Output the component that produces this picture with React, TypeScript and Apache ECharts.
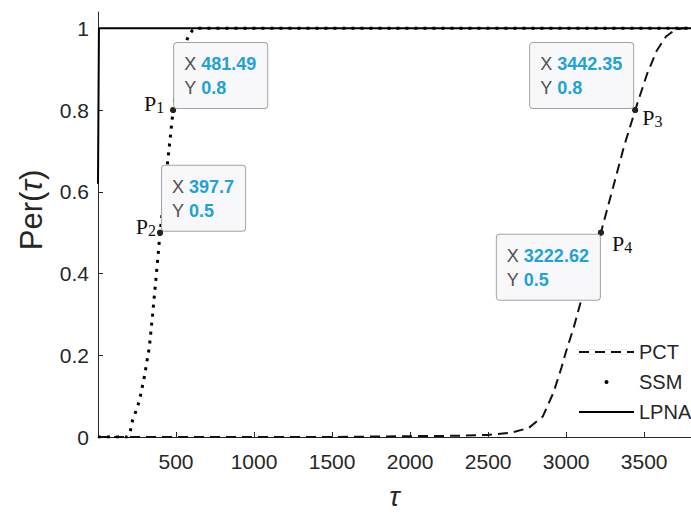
import { useEffect, useRef } from 'react';
import * as echarts from 'echarts';

// ---- data ----
const pctTau = [0, 500, 1000, 1500, 2000, 2300, 2500, 2650, 2760, 2850, 2920, 2970, 3000, 3050, 3100, 3160, 3222.62, 3300, 3370, 3442.35, 3520, 3580, 3640, 3700, 3750, 3800];
const pctPer = [0, 0, 0, 0, 0.002, 0.003, 0.005, 0.011, 0.022, 0.05, 0.11, 0.17, 0.21, 0.27, 0.34, 0.42, 0.5, 0.61, 0.71, 0.8, 0.89, 0.945, 0.98, 0.997, 1, 1];

const ssmTau = [0, 150, 188, 205, 222, 245, 266, 297, 329, 350, 372, 397.7, 440, 481.49, 510, 540, 565, 585, 605, 625, 3800];
const ssmPer = [0, 0, 0, 0.01, 0.042, 0.065, 0.09, 0.147, 0.22, 0.3, 0.39, 0.5, 0.65, 0.8, 0.88, 0.935, 0.968, 0.985, 0.995, 1, 1];

const lpnaTau = [0, 6, 3800];
const lpnaPer = [0.62, 1, 1];

const tipNames = ['1', '2', '3', '4'];
const tipX = [481.49, 397.7, 3442.35, 3222.62];
const tipY = [0.8, 0.5, 0.8, 0.5];

const xTicks = [500, 1000, 1500, 2000, 2500, 3000, 3500];
const yTicks = [0, 0.2, 0.4, 0.6, 0.8, 1];

const legendNames = ['PCT', 'SSM', 'LPNA'];

// ---- label placement (offsets relative to each marker) ----
const tipPlacement = [
  { position: [4, 1], align: 'left', verticalAlign: 'bottom' },
  { position: [5, 1], align: 'left', verticalAlign: 'bottom' },
  { position: [1, 1], align: 'right', verticalAlign: 'bottom' },
  { position: [2, 5], align: 'right', verticalAlign: 'top' },
];
const namePlacement = [
  { position: [-6, -4], align: 'right', verticalAlign: 'middle' },
  { position: [-1, -3], align: 'right', verticalAlign: 'middle' },
  { position: [10, 10], align: 'left', verticalAlign: 'middle' },
  { position: [14, 14], align: 'left', verticalAlign: 'middle' },
];

const zip = (a: number[], b: number[]) => a.map((v, i) => [v, b[i]]);

const SANS = "Arial, 'Liberation Sans', sans-serif";
const SERIF = "'Times New Roman', 'Liberation Serif', serif";
const AX = '#262626';

export default function App() {
  const ref = useRef<HTMLDivElement>(null);

  useEffect(() => {
    if (!ref.current) return;
    const chart = echarts.init(ref.current, undefined, { renderer: 'svg' });

    const tipData = tipX.map((x, i) => ({
      value: [x, tipY[i]],
      label: tipPlacement[i],
    }));
    const nameData = tipX.map((x, i) => ({
      value: [x, tipY[i]],
      label: namePlacement[i],
    }));

    const option: any = {
      animation: false,
      backgroundColor: '#ffffff',
      grid: { left: 98, right: -7, top: 12, bottom: 81 },
      legend: {
        orient: 'vertical',
        left: 573,
        top: 337,
        itemWidth: 55,
        itemHeight: 5,
        itemGap: 10,
        selectedMode: false,
        textStyle: { fontSize: 20, color: AX, fontFamily: SANS },
        data: [
          { name: legendNames[0], itemStyle: { opacity: 0 } },
          { name: legendNames[1], lineStyle: { opacity: 0 } },
          { name: legendNames[2], itemStyle: { opacity: 0 } },
        ],
      },
      xAxis: {
        type: 'value',
        min: 0,
        max: 3800,
        name: 'τ',
        nameLocation: 'middle',
        nameGap: 45,
        nameTextStyle: { fontSize: 28, fontStyle: 'italic', color: AX, fontFamily: SANS },
        axisLine: { onZero: false, lineStyle: { color: AX, width: 1 } },
        axisTick: { inside: true, length: 5, customValues: xTicks, lineStyle: { color: AX } },
        axisLabel: {
          customValues: xTicks,
          formatter: (v: number) => String(v),
          fontSize: 21,
          color: AX,
          margin: 14,
          fontFamily: SANS,
        },
        splitLine: { show: false },
      },
      yAxis: {
        type: 'value',
        min: 0,
        max: 1.04,
        axisLine: { show: true, lineStyle: { color: AX, width: 1 } },
        axisTick: { show: true, inside: true, length: 5, customValues: yTicks, lineStyle: { color: AX } },
        axisLabel: {
          customValues: yTicks,
          formatter: (v: number) => String(v),
          fontSize: 21,
          color: AX,
          margin: 9,
          fontFamily: SANS,
        },
        splitLine: { show: false },
      },
      graphic: [
        {
          type: 'text',
          x: 31,
          y: 210,
          rotation: Math.PI / 2,
          style: {
            text: 'Per({i|τ})',
            fontSize: 31,
            fontFamily: SANS,
            fill: AX,
            align: 'center',
            verticalAlign: 'middle',
            rich: { i: { fontSize: 31, fontStyle: 'italic', fontFamily: SANS, fill: AX } },
          },
        },
      ],
      series: [
        {
          name: legendNames[0],
          type: 'line',
          data: zip(pctTau, pctPer),
          symbol: 'none',
          color: '#111111',
          lineStyle: { color: '#111111', width: 2, type: [10, 6] },
          z: 2,
        },
        {
          name: legendNames[1],
          type: 'line',
          data: zip(ssmTau, ssmPer),
          symbol: 'none',
          color: '#000000',
          lineStyle: { color: '#000000', width: 3, type: [3, 6] },
          z: 3,
        },
        {
          name: legendNames[2],
          type: 'line',
          data: zip(lpnaTau, lpnaPer),
          symbol: 'none',
          color: '#000000',
          lineStyle: { color: '#000000', width: 2 },
          z: 4,
        },
        {
          name: 'names',
          type: 'scatter',
          data: nameData,
          symbolSize: 6,
          itemStyle: { color: '#23231b', opacity: 1 },
          z: 10,
          label: {
            show: true,
            opacity: 1,
            formatter: (p: any) => `{p|P}{s|${tipNames[p.dataIndex]}}`,
            rich: {
              p: { fontSize: 22, fontFamily: SERIF, color: '#111' },
              s: { fontSize: 16, fontFamily: SERIF, color: '#111', padding: [8, 0, 0, 0] },
            },
          },
        },
        {
          name: 'tips',
          type: 'scatter',
          data: tipData,
          symbolSize: 6,
          itemStyle: { color: '#23231b', opacity: 1 },
          z: 11,
          label: {
            show: true,
            opacity: 1,
            fontSize: 18,
            fontFamily: SANS,
            lineHeight: 24,
            backgroundColor: '#f8f8fa',
            borderColor: '#a3a3a3',
            borderWidth: 1,
            borderRadius: 3,
            padding: [9, 11, 8, 10],
            formatter: (p: any) =>
              `{l|X }{v|${tipX[p.dataIndex]}}\n{l|Y }{v|${tipY[p.dataIndex]}}`,
            rich: {
              l: { align: 'left', fontSize: 18, fontFamily: SANS, color: '#505050', lineHeight: 24 },
              v: { align: 'left', fontSize: 18, fontFamily: SANS, color: '#1ea2d8', fontWeight: 'bold', lineHeight: 24 },
            },
          },
        },
      ],
    };

    chart.setOption(option);
    return () => chart.dispose();
  }, []);

  return (
    <div
      ref={ref}
      style={{ position: 'fixed', left: 0, top: 0, width: 691, height: 518, background: '#fff' }}
    />
  );
}
